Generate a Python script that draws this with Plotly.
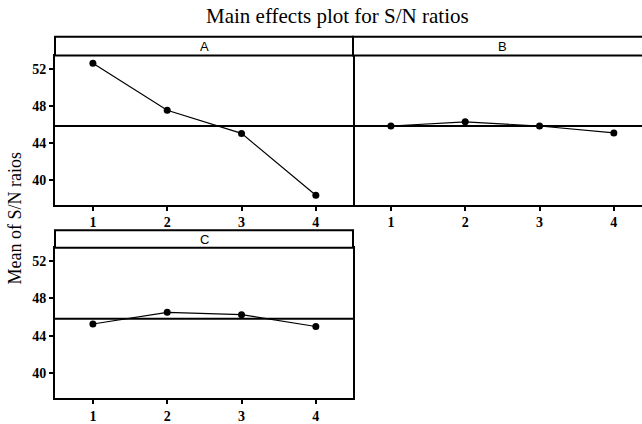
import plotly.graph_objects as go

# ---- data ----
levels = [1, 2, 3, 4]
factor_names = ["A", "B", "C"]
mean_A = [52.6, 47.5, 45.0, 38.3]
mean_B = [45.8, 46.25, 45.8, 45.05]
mean_C = [45.25, 46.5, 46.25, 44.98]
GRAND_MEAN = 45.8
y_ticks = [40, 44, 48, 52]
x_ticks = [1, 2, 3, 4]

W, H = 642, 424

def px_x(p):
    return p / W

def px_y(p):  # pixel from top -> paper fraction from bottom
    return (H - p) / H

fig = go.Figure()

series = [mean_A, mean_B, mean_C]
axes = [("x", "y"), ("x2", "y2"), ("x3", "y3")]
for vals, (xa, ya) in zip(series, axes):
    fig.add_trace(go.Scatter(
        x=levels, y=vals, xaxis=xa, yaxis=ya, mode="lines+markers",
        line=dict(color="black", width=1.2),
        marker=dict(color="black", size=7),
        showlegend=False, hoverinfo="skip"))

tickfont = dict(family="Liberation Serif", size=14, color="#000000", weight="bold")
common_x = dict(range=[0.49, 4.5], tickvals=x_ticks, ticks="outside", ticklen=4,
                tickwidth=1.5, tickcolor="black", showline=True, linecolor="black",
                linewidth=2, mirror=True, showgrid=False, zeroline=False,
                tickfont=tickfont, fixedrange=True)
common_y = dict(range=[37.3, 53.42], tickvals=y_ticks, ticks="outside", ticklen=4,
                tickwidth=1.5, tickcolor="black", showline=True, linecolor="black",
                linewidth=2, mirror=True, showgrid=False, zeroline=False,
                tickfont=tickfont, fixedrange=True)

# pixel layout
A_x = (55, 353)
B_x = (353, 642)
top_y = (56, 206)      # plot area rows (pixels from top)
bot_y = (249.5, 401)
strip_top = (37, 56)
strip_bot = (232, 249.5)

unit_px = (A_x[1] - A_x[0]) / (4.5 - 0.49)
B_range_hi = 0.49 + (B_x[1] - B_x[0]) / unit_px

fig.update_layout(
    width=W, height=H, margin=dict(l=0, r=0, t=0, b=0),
    paper_bgcolor="white", plot_bgcolor="white",
    xaxis=dict(common_x, domain=[px_x(A_x[0]), px_x(A_x[1])], anchor="y"),
    yaxis=dict(common_y, domain=[px_y(top_y[1]), px_y(top_y[0])], anchor="x"),
    xaxis2=dict(common_x, range=[0.49, B_range_hi],
                domain=[px_x(B_x[0]), px_x(B_x[1])], anchor="y2"),
    yaxis2=dict(common_y, domain=[px_y(top_y[1]), px_y(top_y[0])], anchor="x2",
                showline=False, mirror=False, showticklabels=False, ticks=""),
    xaxis3=dict(common_x, domain=[px_x(A_x[0]), px_x(A_x[1])], anchor="y3"),
    yaxis3=dict(common_y, domain=[px_y(bot_y[1]), px_y(bot_y[0])], anchor="x3"),
)

shapes = []
# mean reference lines
for xa, ya in axes:
    shapes.append(dict(type="line", xref=f"{xa} domain", yref=ya, x0=0, x1=1,
                       y0=GRAND_MEAN, y1=GRAND_MEAN,
                       line=dict(color="black", width=2)))

# strips
strips = [
    (A_x, strip_top, "A", (A_x[0] + A_x[1]) / 2),
    ((A_x[1], B_x[1] + 20), strip_top, "B", (B_x[0] + 652) / 2),
    (A_x, strip_bot, "C", (A_x[0] + A_x[1]) / 2),
]
annotations = []
for (x0, x1), (y0, y1), name, xc in strips:
    shapes.append(dict(type="rect", xref="paper", yref="paper",
                       x0=px_x(x0), x1=px_x(x1), y0=px_y(y1), y1=px_y(y0),
                       line=dict(color="black", width=2), fillcolor="white",
                       layer="above"))
    annotations.append(dict(text=name, xref="paper", yref="paper",
                            x=px_x(xc), y=px_y((y0 + y1) / 2),
                            showarrow=False, xanchor="center", yanchor="middle",
                            font=dict(family="Liberation Sans", size=13, color="black")))

annotations.append(dict(text="Main effects plot for S/N ratios", xref="paper",
                        yref="paper", x=px_x(337), y=px_y(16), showarrow=False,
                        xanchor="center", yanchor="middle",
                        font=dict(family="Liberation Serif", size=21, color="black")))
annotations.append(dict(text="Mean of S/N raios", xref="paper", yref="paper",
                        x=px_x(15), y=px_y(220), showarrow=False, textangle=-90,
                        xanchor="center", yanchor="middle",
                        font=dict(family="Liberation Serif", size=18, color="black")))

fig.update_layout(shapes=shapes, annotations=annotations)

fig.write_html("out.html")
